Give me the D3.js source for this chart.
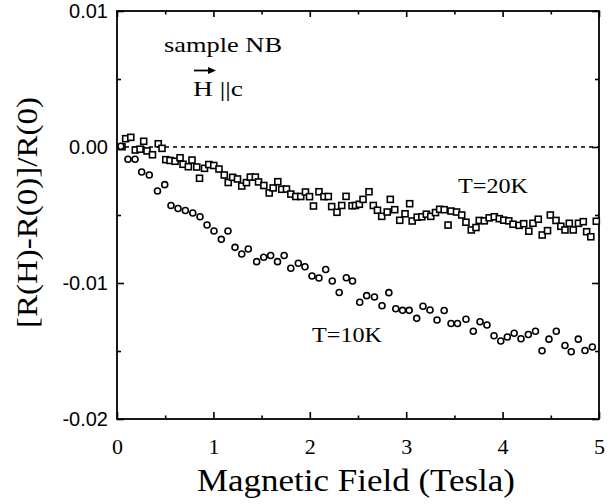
<!DOCTYPE html>
<html>
<head>
<meta charset="utf-8">
<script src="https://cdn.jsdelivr.net/npm/d3@7"></script>
<style>
  html, body { margin: 0; padding: 0; background: #fff; }
  svg { display: block; }
</style>
</head>
<body>
<svg id="chart" width="611" height="504"></svg>
<script>
// ---- Data ----
const xTicks = [0, 1, 2, 3, 4, 5];
const xMinorTicks = [0.5, 1.5, 2.5, 3.5, 4.5];
const yTicks = [-0.02, -0.01, 0.00, 0.01];
const yTickLabels = ["-0.02", "-0.01", "0.00", "0.01"];
const yMinorTicks = [-0.015, -0.005, 0.005];

// T = 20K (squares)
const field20 = [0.052,0.090,0.143,0.190,0.239,0.277,0.311,0.368,0.428,0.467,0.506,0.550,0.602,0.654,0.685,0.740,0.778,0.827,0.856,0.908,0.952,1.004,1.058,1.113,1.154,1.200,1.250,1.294,1.343,1.383,1.435,1.468,1.523,1.579,1.620,1.668,1.709,1.758,1.803,1.855,1.906,1.955,1.997,2.038,2.095,2.147,2.192,2.227,2.282,2.331,2.376,2.438,2.474,2.514,2.552,2.614,2.659,2.702,2.746,2.803,2.835,2.881,2.933,2.988,3.036,3.062,3.114,3.162,3.209,3.255,3.304,3.347,3.394,3.434,3.465,3.522,3.576,3.620,3.675,3.724,3.758,3.810,3.861,3.914,3.966,4.012,4.064,4.108,4.172,4.219,4.272,4.315,4.370,4.411,4.466,4.495,4.554,4.604,4.647,4.692,4.733,4.787,4.837,4.872,4.915,4.972];
const mr20 = [0.00002,0.00061,0.00071,-0.00022,-0.00016,0.00042,-0.00029,-0.00057,0.00024,-0.00010,-0.00093,-0.00099,-0.00105,-0.00079,-0.00127,-0.00145,-0.00096,-0.00147,-0.00230,-0.00157,-0.00129,-0.00136,-0.00162,-0.00206,-0.00261,-0.00223,-0.00235,-0.00287,-0.00262,-0.00221,-0.00221,-0.00257,-0.00283,-0.00338,-0.00301,-0.00255,-0.00311,-0.00309,-0.00346,-0.00364,-0.00364,-0.00331,-0.00365,-0.00434,-0.00329,-0.00365,-0.00364,-0.00438,-0.00480,-0.00430,-0.00363,-0.00432,-0.00430,-0.00421,-0.00385,-0.00329,-0.00430,-0.00465,-0.00510,-0.00478,-0.00385,-0.00461,-0.00539,-0.00491,-0.00417,-0.00544,-0.00516,-0.00513,-0.00494,-0.00510,-0.00482,-0.00458,-0.00461,-0.00574,-0.00471,-0.00478,-0.00500,-0.00553,-0.00610,-0.00592,-0.00540,-0.00543,-0.00521,-0.00513,-0.00527,-0.00538,-0.00543,-0.00568,-0.00576,-0.00564,-0.00619,-0.00561,-0.00531,-0.00647,-0.00615,-0.00500,-0.00540,-0.00583,-0.00610,-0.00561,-0.00610,-0.00561,-0.00549,-0.00623,-0.00660,-0.00546];

// T = 10K (circles)
const field10 = [0.040,0.114,0.187,0.256,0.335,0.420,0.495,0.560,0.633,0.709,0.786,0.861,0.934,1.006,1.082,1.151,1.224,1.294,1.362,1.449,1.522,1.594,1.665,1.734,1.803,1.881,1.950,2.023,2.095,2.165,2.233,2.305,2.379,2.443,2.518,2.590,2.671,2.749,2.820,2.892,2.962,3.031,3.109,3.174,3.247,3.320,3.394,3.465,3.532,3.620,3.696,3.766,3.838,3.911,3.981,4.049,4.120,4.191,4.267,4.341,4.409,4.481,4.557,4.647,4.712,4.785,4.855,4.931];
const mr10 = [0.00005,-0.00090,-0.00090,-0.00184,-0.00206,-0.00324,-0.00277,-0.00430,-0.00452,-0.00467,-0.00485,-0.00513,-0.00574,-0.00618,-0.00679,-0.00618,-0.00738,-0.00787,-0.00750,-0.00843,-0.00811,-0.00798,-0.00843,-0.00798,-0.00892,-0.00855,-0.00880,-0.00949,-0.00963,-0.00901,-0.00985,-0.01070,-0.00961,-0.00985,-0.01142,-0.01093,-0.01103,-0.01167,-0.01071,-0.01189,-0.01201,-0.01201,-0.01260,-0.01171,-0.01199,-0.01272,-0.01202,-0.01298,-0.01298,-0.01267,-0.01355,-0.01285,-0.01309,-0.01388,-0.01426,-0.01397,-0.01370,-0.01410,-0.01379,-0.01355,-0.01498,-0.01413,-0.01355,-0.01460,-0.01505,-0.01413,-0.01496,-0.01471];

// ---- Layout ----
const svg = d3.select("#chart");
const L = 117, R = 599, T = 11, B = 419;
const x = d3.scaleLinear().domain([0, 5]).range([L, R]);
const y = d3.scaleLinear().domain([-0.02, 0.01]).range([B, T]);
const serif = "'Liberation Serif', 'Times New Roman', serif";
const sans = "'Liberation Sans', Arial, sans-serif";

// zero reference line (dashed)
svg.append("line")
  .attr("x1", x(0)).attr("x2", x(5))
  .attr("y1", y(0)).attr("y2", y(0))
  .attr("stroke", "#000").attr("stroke-width", 1.4)
  .attr("stroke-dasharray", "4,4");

// axes: inward ticks on all four sides
function styleAxis(g) {
  g.select(".domain").remove();
  g.selectAll(".tick line").attr("stroke", "#000").attr("stroke-width", 1.6);
}
svg.append("g").attr("transform", `translate(0,${B})`)
  .call(d3.axisBottom(x).tickValues(xTicks).tickSize(-7).tickPadding(14).tickFormat(d3.format("d")))
  .call(styleAxis)
  .call(g => g.selectAll("text").attr("font-family", serif).attr("font-size", 22).attr("fill", "#000").attr("dy", "0.95em"));
svg.append("g").attr("transform", `translate(0,${B})`)
  .call(d3.axisBottom(x).tickValues(xMinorTicks).tickSize(-3.5).tickFormat(""))
  .call(styleAxis);
svg.append("g").attr("transform", `translate(0,${T})`)
  .call(d3.axisTop(x).tickValues(xTicks).tickSize(-6).tickFormat(""))
  .call(styleAxis);
svg.append("g").attr("transform", `translate(0,${T})`)
  .call(d3.axisTop(x).tickValues(xMinorTicks).tickSize(-3.5).tickFormat(""))
  .call(styleAxis);
svg.append("g").attr("transform", `translate(${L},0)`)
  .call(d3.axisLeft(y).tickValues(yTicks).tickSize(-7).tickPadding(9).tickFormat((d, i) => yTickLabels[i]))
  .call(styleAxis)
  .call(g => g.selectAll("text").attr("font-family", sans).attr("font-size", 20).attr("fill", "#000"));
svg.append("g").attr("transform", `translate(${L},0)`)
  .call(d3.axisLeft(y).tickValues(yMinorTicks).tickSize(-4).tickFormat(""))
  .call(styleAxis);
svg.append("g").attr("transform", `translate(${R},0)`)
  .call(d3.axisRight(y).tickValues(yTicks).tickSize(-7).tickFormat(""))
  .call(styleAxis);
svg.append("g").attr("transform", `translate(${R},0)`)
  .call(d3.axisRight(y).tickValues(yMinorTicks).tickSize(-4).tickFormat(""))
  .call(styleAxis);

// frame
svg.append("rect")
  .attr("x", L).attr("y", T).attr("width", R - L).attr("height", B - T)
  .attr("fill", "none").attr("stroke", "#000").attr("stroke-width", 1.8);

// data: T=20K squares
const s = 6;
svg.append("g").selectAll("rect")
  .data(d3.zip(field20, mr20))
  .join("rect")
  .attr("x", d => x(d[0]) - s / 2).attr("y", d => y(d[1]) - s / 2)
  .attr("width", s).attr("height", s)
  .attr("fill", "#fff").attr("stroke", "#000").attr("stroke-width", 1.6);

// data: T=10K circles
svg.append("g").selectAll("circle")
  .data(d3.zip(field10, mr10))
  .join("circle")
  .attr("cx", d => x(d[0])).attr("cy", d => y(d[1]))
  .attr("r", 3)
  .attr("fill", "#fff").attr("stroke", "#000").attr("stroke-width", 1.6);

// axis titles
svg.append("text")
  .attr("x", (L + R) / 2 - 2).attr("y", 491)
  .attr("text-anchor", "middle")
  .attr("font-family", serif).attr("font-size", 31)
  .attr("textLength", 318).attr("lengthAdjust", "spacingAndGlyphs")
  .text("Magnetic Field (Tesla)");
svg.append("text")
  .attr("transform", `translate(37,${(97 + 328) / 2}) rotate(-90)`)
  .attr("text-anchor", "middle")
  .attr("font-family", serif).attr("font-size", 29)
  .attr("textLength", 231).attr("lengthAdjust", "spacingAndGlyphs")
  .text("[R(H)-R(0)]/R(0)");

// annotations
svg.append("text")
  .attr("x", 164).attr("y", 52)
  .attr("font-family", serif).attr("font-size", 22)
  .attr("textLength", 118).attr("lengthAdjust", "spacingAndGlyphs")
  .text("sample NB");
svg.append("text")
  .attr("x", 193).attr("y", 96)
  .attr("font-family", serif).attr("font-size", 22)
  .attr("textLength", 50).attr("lengthAdjust", "spacingAndGlyphs")
  .text("H ||c");
// vector arrow over H
svg.append("line")
  .attr("x1", 194).attr("x2", 210).attr("y1", 70.5).attr("y2", 70.5)
  .attr("stroke", "#000").attr("stroke-width", 1.8);
svg.append("path")
  .attr("d", "M216,70.5 L208,67 L208,74 Z")
  .attr("fill", "#000");

svg.append("text")
  .attr("x", 458).attr("y", 193)
  .attr("font-family", serif).attr("font-size", 21)
  .attr("textLength", 70).attr("lengthAdjust", "spacingAndGlyphs")
  .text("T=20K");
svg.append("text")
  .attr("x", 312).attr("y", 342)
  .attr("font-family", serif).attr("font-size", 21)
  .attr("textLength", 70).attr("lengthAdjust", "spacingAndGlyphs")
  .text("T=10K");
</script>
</body>
</html>
